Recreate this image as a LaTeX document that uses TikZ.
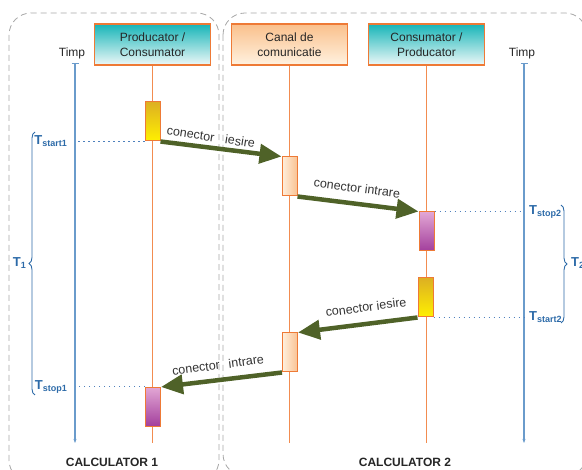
\documentclass[tikz,border=0pt]{standalone}
\usepackage{fontspec}
\setmainfont{Liberation Sans}
\usetikzlibrary{arrows.meta,decorations.pathreplacing,calc}

\definecolor{framegray}{HTML}{A6A6A6}
\definecolor{lifeorange}{HTML}{F28C50}
\definecolor{boxorange}{HTML}{EE7A36}
\definecolor{tealtop}{HTML}{17B5B8}
\definecolor{tealbot}{HTML}{EEF8F8}
\definecolor{peachtop}{HTML}{FAC08C}
\definecolor{peachbot}{HTML}{FFF2E0}
\definecolor{goldtop}{HTML}{DDB022}
\definecolor{yellowbot}{HTML}{FFF000}
\definecolor{creamleft}{HTML}{FFEFDC}
\definecolor{creamright}{HTML}{F9C394}
\definecolor{pinktop}{HTML}{E2A6D4}
\definecolor{purplebot}{HTML}{A23E9C}
\definecolor{axisblue}{HTML}{6A9BCB}
\definecolor{dotblue}{HTML}{4F81BD}
\definecolor{labelblue}{HTML}{2C6AA8}
\definecolor{msggreen}{HTML}{4F6228}

\newcommand{\tlabel}[2]{{\fontsize{13}{15}\selectfont\bfseries #1}\raisebox{-0.35ex}{\fontsize{9}{10}\selectfont\bfseries #2}}

\tikzset{
  frame/.style={draw=framegray, line width=0.8pt, dash pattern=on 6pt off 4pt, rounded corners=22pt},
  header/.style={draw=boxorange, line width=1.1pt, minimum width=116pt, minimum height=41pt,
    inner sep=0pt, align=center, font=\fontsize{12}{15}\selectfont, text=black!85},
  lifeline/.style={draw=lifeorange, line width=0.9pt},
  bar/.style={draw=boxorange, line width=1pt, minimum width=15pt, minimum height=39pt, inner sep=0pt},
  outbar/.style={bar, top color=goldtop, bottom color=yellowbot},
  chanbar/.style={bar, left color=creamleft, right color=creamright},
  inbar/.style={bar, top color=pinktop, bottom color=purplebot},
  timeaxis/.style={draw=axisblue, line width=1.1pt, {Bar[width=7pt,line width=1pt]}-{Stealth[length=4pt,width=3pt]}},
  axislabel/.style={font=\fontsize{12}{14}\selectfont, text=black!85, inner sep=1pt},
  msg/.style={draw=msggreen, line width=4.5pt, -{Triangle[length=22pt,width=19pt]}},
  msglabel/.style={font=\fontsize{12.5}{14}\selectfont, text=black!80, inner sep=0pt},
  tick/.style={draw=dotblue, line width=1pt, dash pattern=on 1.3pt off 3.7pt},
  tname/.style={text=labelblue, inner sep=0pt},
  span/.style={draw=labelblue, line width=0.9pt, decorate, decoration={brace, amplitude=6pt}},
  footer/.style={font=\fontsize{12}{14}\selectfont\bfseries, text=black!85}
}

\begin{document}
\begin{tikzpicture}[x=1pt, y=-1pt]
\useasboundingbox (0,0) rectangle (582,470);

% the two machines
\begin{scope}
  \clip (0,0) rectangle (582,470);
  \draw[frame] (9,13) rectangle (219,482);
  \draw[frame] (223,13) rectangle (587,476);
\end{scope}

% participants
\node[header, top color=tealtop, bottom color=tealbot] (prod) at (152.5,44.5) {Producator /\\Consumator};
\node[header, top color=peachtop, bottom color=peachbot] (chan) at (289.5,44.5) {Canal de\\comunicatie};
\node[header, top color=tealtop, bottom color=tealbot] (cons) at (426.5,44.5) {Consumator /\\Producator};

\coordinate (prodend) at (152.5,443);
\coordinate (chanend) at (289.5,443);
\coordinate (consend) at (426.5,443);
\draw[lifeline] (prod.south) -- (prodend);
\draw[lifeline] (chan.south) -- (chanend);
\draw[lifeline] (cons.south) -- (consend);

% time axes
\coordinate (axLtop) at (75,63);
\coordinate (axLbot) at (75,443);
\coordinate (axRtop) at (524,63);
\coordinate (axRbot) at (524,443);
\draw[timeaxis] (axLtop) -- (axLbot);
\draw[timeaxis] (axRtop) -- (axRbot);
\node[axislabel, anchor=south] (timpL) at ($(axLtop)+(-3,-3)$) {Timp};
\node[axislabel, anchor=south] (timpR) at ($(axRtop)+(-2,-3)$) {Timp};

% activation bars
\node[outbar]  (out1) at (152.5,121.5) {};
\node[chanbar] (ch1)  at (289.5,176.5) {};
\node[inbar]   (in2)  at (426.5,231.5) {};
\node[outbar]  (out2) at (425.5,297.5) {};
\node[chanbar] (ch2)  at (290,352.5) {};
\node[inbar]   (in1)  at (153,407) {};

% messages
\draw[msg] (out1.south east) -- (ch1.north west);
\draw[msg] (ch1.south east) -- (in2.north west);
\draw[msg] (out2.south west) -- (ch2.north east);
\draw[msg] (ch2.south west) -- (in1.north east);

\node[msglabel, rotate=-8.5] (l1) at (211,137) {conector\hspace{11pt}iesire};
\node[msglabel, rotate=-7.5] (l2) at (357,188) {conector intrare};
\node[msglabel, rotate=7.5]  (l3) at (366,307) {conector iesire};
\node[msglabel, rotate=7.5]  (l4) at (218,365) {conector\hspace{9pt}intrare};

% time marks
\draw[tick] (out1.south west) -- (out1.south west -| axLtop);
\draw[tick] (in1.north west) -- (in1.north west -| axLtop);
\draw[tick] (in2.north east) -- (in2.north east -| axRtop);
\draw[tick] (out2.south east) -- (out2.south east -| axRtop);

\node[tname, anchor=east] (ts1) at (67,141) {\tlabel{T}{start1}};
\node[tname, anchor=east] (tp1) at (67,387) {\tlabel{T}{stop1}};
\node[tname, anchor=west] (tp2) at (529,212) {\tlabel{T}{stop2}};
\node[tname, anchor=west] (ts2) at (529,317) {\tlabel{T}{start2}};

% intervals
\coordinate (b1a) at (35,395);
\coordinate (b1b) at (35,132);
\draw[span] (b1a) -- (b1b);
\node[tname, anchor=east] (t1) at (26,263) {\tlabel{T}{1}};

\coordinate (b2a) at (561,205);
\coordinate (b2b) at (561,323);
\draw[span] (b2a) -- (b2b);
\node[tname, anchor=west] (t2) at (571,263) {\tlabel{T}{2}};

% machine names
\node[footer] (calc1) at (112,462) {CALCULATOR 1};
\node[footer] (calc2) at (405,462) {CALCULATOR 2};
\end{tikzpicture}
\end{document}
